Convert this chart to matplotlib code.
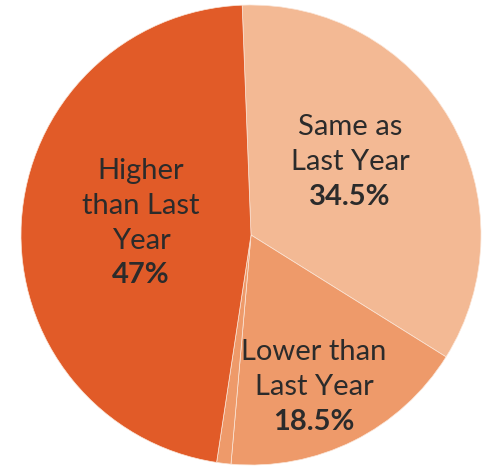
import matplotlib
matplotlib.use("Agg")
import matplotlib.pyplot as plt

# Share of respondents by change vs last year
labels = ["Same as\nLast Year", "Lower than\nLast Year", "Higher\nthan Last\nYear"]
shares = [34.5, 18.5, 47.0]
# the "Lower" share is drawn as two pieces in the same colour
lower_parts = [17.5, 1.0]

colors = {"same": "#F3B994", "lower": "#EE9A6A", "higher": "#E15B28"}

plt.rcParams['font.family'] = ['Lato', 'DejaVu Sans']

fig = plt.figure(figsize=(4.89, 4.69), dpi=100)
ax = fig.add_axes([0, 0, 1, 1])

values = [shares[0]] + lower_parts + [shares[2]]
wedge_colors = [colors["same"], colors["lower"], colors["lower"], colors["higher"]]
ax.pie(values, colors=wedge_colors, startangle=92.2, counterclock=False,
       radius=1.0, center=(0, 0), frame=True,
       wedgeprops=dict(linewidth=0.5, edgecolor="#fbe6d8"))

# label positions, in units of the pie radius
label_pos = [(0.43, 0.317), (0.274, -0.661), (-0.478, 0.052)]
text_color = "#2b2b2b"
for lab, val, (x, y) in zip(labels, shares, label_pos):
    val_txt = f"{val:g}%"
    lines = lab.split("\n")
    n = len(lines) + 1
    step = 0.152
    top = y + step * n / 2
    for i, line in enumerate(lines):
        ax.text(x, top - step * (i + 0.5), line, ha="center", va="center",
                fontsize=21, color=text_color, fontweight="normal")
    ax.text(x, top - step * (n - 0.5), val_txt, ha="center", va="center",
            fontsize=21, color=text_color, fontweight="bold")

ax.set_xlim(-251 / 230, 238 / 230)
ax.set_ylim(-234 / 230, 235 / 230)
ax.set_aspect("auto")
ax.axis("off")

fig.savefig("out.png", dpi=100, facecolor="white")
